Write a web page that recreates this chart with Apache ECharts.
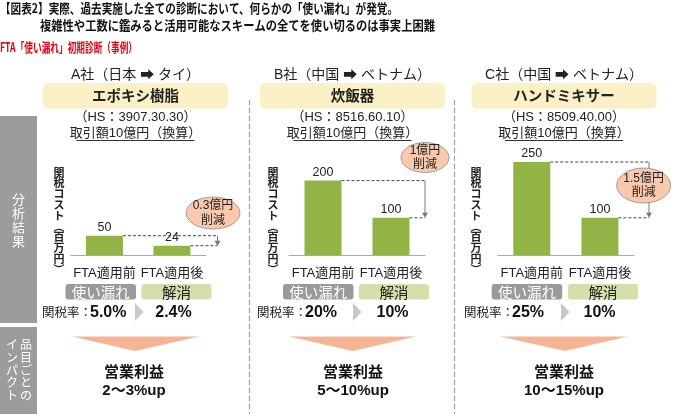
<!DOCTYPE html>
<html><head><meta charset="utf-8">
<script src="https://cdn.jsdelivr.net/npm/echarts@6/dist/echarts.min.js"></script>
<style>html,body{margin:0;padding:0;background:#fff}#c{width:680px;height:414px}</style>
</head><body><div id="c"></div>
<script>
// ---------- data ----------
const titleLine1 = '【図表2】実際、過去実施した全ての診断において、何らかの「使い漏れ」が発覚。';
const titleLine2 = '複雑性や工数に鑑みると活用可能なスキームの全てを使い切るのは事実上困難';
const subTitle = 'FTA「使い漏れ」初期診断（事例）';
const sideLabel1 = '分析結果';
const sideLabel2 = ['品目ごとの', 'インパクト'];
const companies = ['A社（日本 ➡ タイ）', 'B社（中国 ➡ ベトナム）', 'C社（中国 ➡ ベトナム）'];
const products = ['エポキシ樹脂', '炊飯器', 'ハンドミキサー'];
const hsCodes = ['（HS：3907.30.30）', '（HS：8516.60.10）', '（HS：8509.40.00）'];
const tradeLabel = '取引額10億円（換算）';
const yAxisName = '関税コスト︵百万円︶';
const categories = ['FTA適用前', 'FTA適用後'];
const costA = [50, 24];
const costB = [200, 100];
const costC = [250, 100];
const savings = ['0.3億円\n削減', '1億円\n削減', '1.5億円\n削減'];
const statusLabels = ['使い漏れ', '解消'];
const rateLabel = '関税率：';
const ratesBefore = ['5.0%', '20%', '25%'];
const ratesAfter = ['2.4%', '10%', '10%'];
const impactTitle = '営業利益';
const impacts = ['2～3%up', '5～10%up', '10～15%up'];

// ---------- layout ----------
const FF = '"Liberation Sans", "Noto Sans CJK JP", sans-serif';
const FJ = '"Noto Sans CJK JP", sans-serif';
const BASE = 255, BAR_W = 37, YMAX = 250;
const L = [
  {pc:135.5, gl:70.7, gw:135, gh:96.5, gray:65.5, green:141.5, rl:42, r1:90, tri:135, r2:173.5, yn:59, ell:[213,213,27,16], ax:217.5, ot:[72,199,135], imp:134},
  {pc:352.5, gl:289, gw:136, gh:93, gray:283, green:359, rl:257, r1:305, tri:353, r2:392.5, yn:273, ell:[425,157.5,24,15], ax:425, ot:[289,416,352.7], imp:353},
  {pc:564, gl:497.7, gw:136.3, gh:93, gray:491.7, green:568, rl:464, r1:512, tri:561, r2:599.5, yn:476, ell:[643.7,185.5,27,17.5], ax:649, ot:[500,628,565], imp:564}
];
const costs = [costA, costB, costC];

const chart = echarts.init(document.getElementById('c'), null, {renderer:'canvas'});
const grids = [], xAxes = [], yAxes = [], series = [];
L.forEach((p, i) => {
  grids.push({left:p.gl, top:BASE - p.gh, width:p.gw, height:p.gh});
  xAxes.push({type:'category', gridIndex:i, data:categories,
    axisLine:{lineStyle:{color:'#aaa', width:1}},
    axisTick:{length:4, lineStyle:{color:'#aaa'}},
    axisLabel:{interval:0, margin:12, fontSize:13, color:'#222', fontFamily:FF, hideOverlap:false}});
  yAxes.push({type:'value', gridIndex:i, min:0, max:YMAX, show:false, splitLine:{show:false}});
  series.push({type:'bar', xAxisIndex:i, yAxisIndex:i, data:costs[i], barWidth:BAR_W,
    itemStyle:{color:'#92b446'},
    label:{show:true, position:'top', distance:2, fontSize:12.5, color:'#222', fontFamily:FF}});
});
chart.setOption({animation:false, grid:grids, xAxis:xAxes, yAxis:yAxes, series:series});

// ---------- decorations ----------
const mctx = document.createElement('canvas').getContext('2d');
function measure(t, size, weight, fam){ mctx.font = `${weight} ${size}px ${fam}`; return mctx.measureText(t).width; }
function txt(x, y, t, o){
  o = o || {};
  const el = {type:'text', x:x, y:y, z:o.z||10, style:{text:t, fontSize:o.size||13, fontWeight:o.weight||'normal',
    fontFamily:o.fam||FF, fill:o.fill||'#222', align:o.align||'center', verticalAlign:o.va||'middle',
    lineHeight:o.lh}};
  if (o.sx) { el.scaleX = o.sx; el.originX = 0; el.originY = 0; }
  return el;
}
const g = [];
// titles (condensed bold)
const tdefs = [[titleLine1, 0, 8, 398, 13, '#111'], [titleLine2, 40, 25, 395, 13, '#111'], [subTitle, 0, 47.5, 137, 13, '#e60012']];
tdefs.forEach(d => {
  const w = measure(d[0], d[4], 'bold', FJ);
  g.push(txt(d[1], d[2], d[0], {size:d[4], weight:'bold', fam:FJ, fill:d[5], align:'left', sx:d[3]/w}));
});
// sidebar
g.push({type:'rect', shape:{x:0, y:116, width:37, height:207}, style:{fill:'#9c9c9c'}});
g.push({type:'rect', shape:{x:0, y:327, width:37, height:87}, style:{fill:'#9c9c9c'}});
g.push(txt(18.5, 220, sideLabel1.split('').join('\n'), {size:13, fam:FJ, fill:'#fff', lh:14}));
g.push(txt(26, 338, sideLabel2[0].split('').join('\n'), {size:12, fam:FJ, fill:'#fff', lh:12.8, va:'top'}));
g.push(txt(12, 338, sideLabel2[1].split('').join('\n'), {size:12, fam:FJ, fill:'#fff', lh:12.8, va:'top'}));
// separators
[249.5, 454.5].forEach(x => g.push({type:'line', shape:{x1:x, y1:100, x2:x, y2:414}, style:{stroke:'#999', lineWidth:1, lineDash:[5,3]}}));

L.forEach((p, i) => {
  g.push(txt(p.pc, 75, companies[i], {size:14}));
  g.push({type:'rect', shape:{x:p.pc-92.5, y:83, width:185, height:25.5, r:5}, style:{fill:'#fcf1c6'}});
  g.push(txt(p.pc, 95.5, products[i], {size:14.5, weight:'bold', fam:FJ, fill:'#222'}));
  g.push(txt(p.pc, 117.5, hsCodes[i], {size:13}));
  g.push(txt(p.pc, 133.5, tradeLabel, {size:13}));
  g.push({type:'line', shape:{x1:p.pc-59, y1:140.5, x2:p.pc+59, y2:140.5}, style:{stroke:'#333', lineWidth:1}});
  // y axis name (vertical)
  g.push(txt(p.yn, 167, yAxisName.split('').join('\n'), {size:11, fam:FJ, lh:10.8, va:'top', weight:'bold', fill:'#222'}));
  // status pills
  g.push({type:'rect', shape:{x:p.gray, y:284, width:70.5, height:15.5, r:3}, style:{fill:'#9a9a9a'}});
  g.push(txt(p.gray+35.25, 292, statusLabels[0], {size:14.5, fam:FJ, fill:'#fff'}));
  g.push({type:'rect', shape:{x:p.green, y:284, width:70, height:15.5, r:3}, style:{fill:'#d3e0ac'}});
  g.push(txt(p.green+35, 292, statusLabels[1], {size:14.5, fam:FJ, fill:'#222'}));
  // rates
  g.push(txt(p.rl, 312.5, rateLabel, {size:12.5, fam:FJ, align:'left'}));
  g.push(txt(p.r1, 313, ratesBefore[i], {size:16, weight:'bold', align:'left', fill:'#111'}));
  g.push({type:'polygon', shape:{points:[[p.tri,303],[p.tri+8.5,312],[p.tri,321]]}, style:{fill:'#c9c9c9'}});
  g.push(txt(p.r2, 313, ratesAfter[i], {size:16, weight:'bold', fill:'#111'}));
  // impact
  g.push({type:'polygon', shape:{points:[[p.ot[0],336.5],[p.ot[1],336.5],[p.ot[2],351]]}, style:{fill:'#f5b593'}});
  g.push(txt(p.imp, 371, impactTitle, {size:15, weight:'bold', fam:FJ, fill:'#111'}));
  g.push(txt(p.imp, 390.5, impacts[i], {size:15, weight:'bold', fill:'#111'}));
  // annotation
  const p0 = chart.convertToPixel({seriesIndex:i}, [0, costs[i][0]]);
  const p1 = chart.convertToPixel({seriesIndex:i}, [1, costs[i][1]]);
  const h = BAR_W/2;
  const ds = {stroke:'#444', lineWidth:1, lineDash:[3,2]};
  g.push({type:'line', z:5, shape:{x1:p0[0]+h, y1:p0[1], x2:p.ax, y2:p0[1]}, style:ds});
  g.push({type:'line', z:5, shape:{x1:p1[0]+h, y1:p1[1], x2:p.ax, y2:p1[1]}, style:ds});
  g.push({type:'line', z:5, shape:{x1:p.ax, y1:p0[1], x2:p.ax, y2:p1[1]-3}, style:{stroke:'#777', lineWidth:1}});
  g.push({type:'polygon', z:5, shape:{points:[[p.ax-3,p1[1]-5],[p.ax+3,p1[1]-5],[p.ax,p1[1]]]}, style:{fill:'#777'}});
  const e = p.ell;
  g.push({type:'circle', z:8, x:e[0], y:e[1], scaleY:e[3]/e[2], shape:{cx:0, cy:0, r:e[2]}, style:{fill:'#f9c8ad', stroke:'#8c8c8c', lineWidth:1}});
  g.push(txt(e[0], e[1], savings[i], {size:12, lh:14.5, z:9}));
});
chart.setOption({graphic:{elements:g}});
</script>
</body></html>
